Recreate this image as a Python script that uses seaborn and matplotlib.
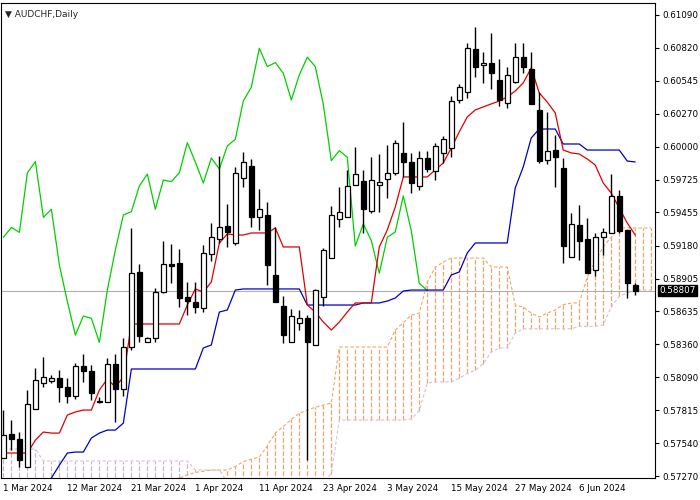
import matplotlib
matplotlib.use("Agg")
import matplotlib.pyplot as plt
import seaborn as sns
import numpy as np
import pandas as pd

opens = [0.57416,0.57618,0.57574,0.57342,0.57822,0.58038,0.58060,0.58079,0.58005,0.57936,
         0.58181,0.58140,0.57886,0.57886,0.58198,0.57988,0.58336,0.58958,0.58378,0.58411,
         0.58797,0.59024,0.59032,0.58750,0.58715,0.58659,0.59107,0.59231,0.59342,0.59203,
         0.59737,0.59839,0.59413,0.59433,0.58936,0.58679,0.58383,0.58535,0.58577,0.58356,
         0.58756,0.59079,0.59397,0.59419,0.59681,0.59714,0.59469,0.59681,0.59728,0.59783,
         0.59947,0.59872,0.59673,0.59905,0.59797,0.59950,0.59986,0.60386,0.60455,0.60806,
         0.60673,0.60695,0.60552,0.60359,0.60538,0.60740,0.60640,0.60303,0.59889,0.59972,
         0.59820,0.59088,0.59350,0.59234,0.58978,0.59248,0.59281,0.59591,0.59309,0.58853]
highs = [0.57817,0.57734,0.57637,0.57983,0.58162,0.58259,0.58107,0.58148,0.58079,0.58204,
         0.58281,0.58190,0.57927,0.58245,0.58281,0.58411,0.59322,0.59024,0.58425,0.58825,
         0.59217,0.59192,0.59151,0.58880,0.58880,0.59184,0.59364,0.59922,0.59524,0.59833,
         0.59957,0.59894,0.59645,0.59543,0.59336,0.58762,0.58651,0.58646,0.58604,0.58820,
         0.59157,0.59507,0.59667,0.59806,0.59999,0.59806,0.59911,0.59938,0.60013,0.60054,
         0.60203,0.59947,0.59963,0.59963,0.60029,0.60088,0.60419,0.60519,0.60856,0.60994,
         0.60787,0.60939,0.60723,0.60662,0.60856,0.60856,0.60787,0.60455,0.60289,0.60096,
         0.59903,0.59453,0.59516,0.59406,0.59281,0.59323,0.59773,0.59640,0.59309,0.58867]
lows = [0.57416,0.57486,0.57347,0.57342,0.57822,0.58010,0.58038,0.57886,0.57872,0.57905,
        0.58052,0.57900,0.57878,0.57886,0.57720,0.57933,0.58314,0.58383,0.58378,0.58383,
        0.58789,0.58867,0.58673,0.58604,0.58618,0.58632,0.59054,0.59198,0.59165,0.59184,
        0.59667,0.59330,0.59308,0.58853,0.58715,0.58369,0.58383,0.58480,0.57403,0.58356,
        0.58679,0.59079,0.59336,0.59419,0.59681,0.59281,0.59447,0.59460,0.59571,0.59764,
        0.59748,0.59615,0.59640,0.59789,0.59723,0.59861,0.59911,0.60359,0.60400,0.60574,
        0.60530,0.60474,0.60336,0.60317,0.60524,0.60607,0.60350,0.59861,0.59856,0.59668,
        0.59038,0.59088,0.59060,0.58950,0.58928,0.59102,0.59281,0.59281,0.58743,0.58770]
closes = [0.57610,0.57574,0.57403,0.57867,0.58066,0.58088,0.58079,0.58010,0.57936,0.58181,
          0.58143,0.57955,0.57891,0.58195,0.57988,0.58336,0.58949,0.58433,0.58411,0.58797,
          0.59024,0.59013,0.58748,0.58723,0.58668,0.59115,0.59248,0.59330,0.59289,0.59783,
          0.59875,0.59413,0.59480,0.59018,0.58715,0.58438,0.58596,0.58577,0.58378,0.58811,
          0.59143,0.59433,0.59460,0.59673,0.59772,0.59480,0.59723,0.59709,0.59783,0.60032,
          0.59872,0.59698,0.59905,0.59814,0.60005,0.60060,0.60378,0.60491,0.60814,0.60662,
          0.60695,0.60607,0.60386,0.60593,0.60740,0.60662,0.60350,0.59883,0.59966,0.59911,
          0.59176,0.59359,0.59221,0.58950,0.59248,0.59292,0.59591,0.59303,0.58867,0.58807]

tenkan = ([0.57461]*4 + [0.57568,0.57635,0.57626,0.57626,0.57776,0.57801,0.57817,0.57817,
          0.57983,0.58074,0.58008,0.58091] + [0.58530]*7 +
          [0.58687,0.58820,0.58795,0.58878,0.59201,0.59276,0.59267,0.59267] + [0.59284]*3 +
          [0.59325] + [0.59168]*3 + [0.58687,0.58629,0.58546,0.58480,0.58546,0.58629] +
          [0.58704]*3 + [0.59168,0.59309,0.59499] + [0.59748]*4 +
          [0.59806,0.59864,0.59988,0.60121,0.60245,0.60303,0.60328,0.60353,0.60377,0.60411,
           0.60460,0.60527,0.60651,0.60444,0.60369,0.60278,0.59971,0.59947,0.59938,0.59897,
           0.59847,0.59698,0.59615,0.59491,0.59367,0.59267])
kijun = ([0.57154]*6 + [0.57254,0.57361,0.57461,0.57469,0.57469,0.57585,0.57626,0.57651,
         0.57651,0.57709] + [0.58157]*9 + [0.58331,0.58356,0.58629,0.58646,0.58811] +
         [0.58820]*8 + [0.58687]*7 + [0.58704]*3 + [0.58720,0.58745,0.58803] + [0.58811]*5 +
         [0.58936,0.58961,0.59118] + [0.59201]*5 + [0.59657,0.59831,0.60071] + [0.60145]*3 +
         [0.60021]*3 + [0.59971]*5 + [0.59880,0.59872])
span_a = ([0.5710]*22 + [0.57254,0.5728,0.5730,0.5731,0.5732,0.5732,0.5732,0.5735,0.5739,
          0.5741,0.57428,0.5752,0.57626,0.5768,0.5774,0.5779,0.57817,0.5784,0.57858,0.57875] +
          [0.58339]*7 + [0.58480,0.5854,0.58604,0.5862,0.58878,0.5900,0.59043] + [0.59076]*5 +
          [0.59002]*3 + [0.58687,0.58670,0.58620,0.58588,0.5862,0.58646,0.5869,0.58704,0.58704,
          0.58919,0.5905,0.59168,0.5925] + [0.59325]*5)
span_b = ([0.57494]*5 + [0.57395]*19 + [0.57320]*4 + [0.5722]*13 + [0.5729] + [0.57734]*9 +
          [0.57743,0.5781,0.58041] + [0.58050]*3 + [0.5808,0.5812,0.58148,0.5820,0.58298] +
          [0.58331]*2 + [0.58455] + [0.5849]*7 + [0.5851]*3 + [0.58521,0.5867,0.5876,0.58787] +
          [0.58811]*3)

date_labels = ["1 Mar 2024","12 Mar 2024","21 Mar 2024","1 Apr 2024","11 Apr 2024",
               "23 Apr 2024","3 May 2024","15 May 2024","27 May 2024","6 Jun 2024"]
price_ticks = [0.57270,0.57540,0.57815,0.58090,0.58360,0.58635,0.58905,0.59180,
               0.59455,0.59725,0.60000,0.60270,0.60545,0.60820,0.61090]
last_price = 0.58807

sns.set_style("white")
plt.rcParams['font.family'] = ['DejaVu Sans']

n = len(closes)
idx = np.arange(n)
df = pd.DataFrame({"i": idx, "o": opens, "h": highs, "l": lows, "c": closes,
                   "tenkan": tenkan, "kijun": kijun})
df["chikou"] = df["c"].shift(-26)
cloud = pd.DataFrame({"i": np.arange(len(span_a)), "a": span_a, "b": span_b})

fig = plt.figure(figsize=(7, 5), dpi=100)
ax = fig.add_axes([0.002, 0.044, 0.934, 0.95])

# cloud hatch
up = cloud[cloud.a >= cloud.b]
dn = cloud[cloud.a < cloud.b]
ax.vlines(up.i.to_numpy(), up.b.to_numpy(), up.a.to_numpy(), colors="#f5a070",
          linestyles="dashed", linewidth=0.9)
ax.vlines(dn.i.to_numpy(), dn.a.to_numpy(), dn.b.to_numpy(), colors="#c8b4d0",
          linestyles="dashed", linewidth=0.9)
ax.plot(cloud.i, cloud.a, color="#f4a460", lw=0.8, ls=(0, (3, 2)))
ax.plot(cloud.i, cloud.b, color="#d8bfd8", lw=0.8, ls=(0, (3, 2)))

ax.axhline(last_price, color="#b0b0b0", lw=0.8)

sns.lineplot(data=df, x="i", y="chikou", ax=ax, color="#00d000", lw=0.9)
sns.lineplot(data=df, x="i", y="kijun", ax=ax, color="#0000c8", lw=0.9)
sns.lineplot(data=df, x="i", y="tenkan", ax=ax, color="#e00000", lw=0.9)

# candles
ax.vlines(df.i, df.l, df.h, colors="black", lw=1.0, zorder=3)
bull = df[df.c >= df.o]
bear = df[df.c < df.o]
ax.bar(bull.i, np.maximum(bull.c - bull.o, 0.00004), bottom=bull.o, width=0.62,
       color="white", edgecolor="black", linewidth=0.9, zorder=4)
ax.bar(bear.i, bear.o - bear.c, bottom=bear.c, width=0.62,
       color="black", edgecolor="black", linewidth=0.9, zorder=4)

ax.set_xlim(-0.25, 81.5)
ax.set_ylim(0.57254, 0.61189)
ax.set_xlabel("")
ax.set_ylabel("")
ax.set_xticks(np.arange(0, 80, 8))
ax.set_xticklabels(date_labels, fontsize=6.3, ha="left")
ax.yaxis.tick_right()
ax.set_yticks(price_ticks)
ax.set_yticklabels([f"{v:.5f}" for v in price_ticks], fontsize=6.3)
ax.tick_params(axis="both", direction="out", length=3, width=0.8, pad=2, colors="black")
ax.tick_params(axis="x", pad=1)
for s in ax.spines.values():
    s.set_color("black")
    s.set_linewidth(0.8)

ax.text(0.005, 0.985, "\u25bc AUDCHF,Daily", transform=ax.transAxes, fontsize=6.5,
        va="top", ha="left")
ax.annotate(f"{last_price:.5f}", xy=(1.0, last_price), xycoords=("axes fraction", "data"),
            xytext=(3, 0), textcoords="offset points", fontsize=6.3, color="white",
            va="center", ha="left",
            bbox=dict(boxstyle="square,pad=0.15", fc="black", ec="black"))

fig.savefig("out.png", dpi=100)
